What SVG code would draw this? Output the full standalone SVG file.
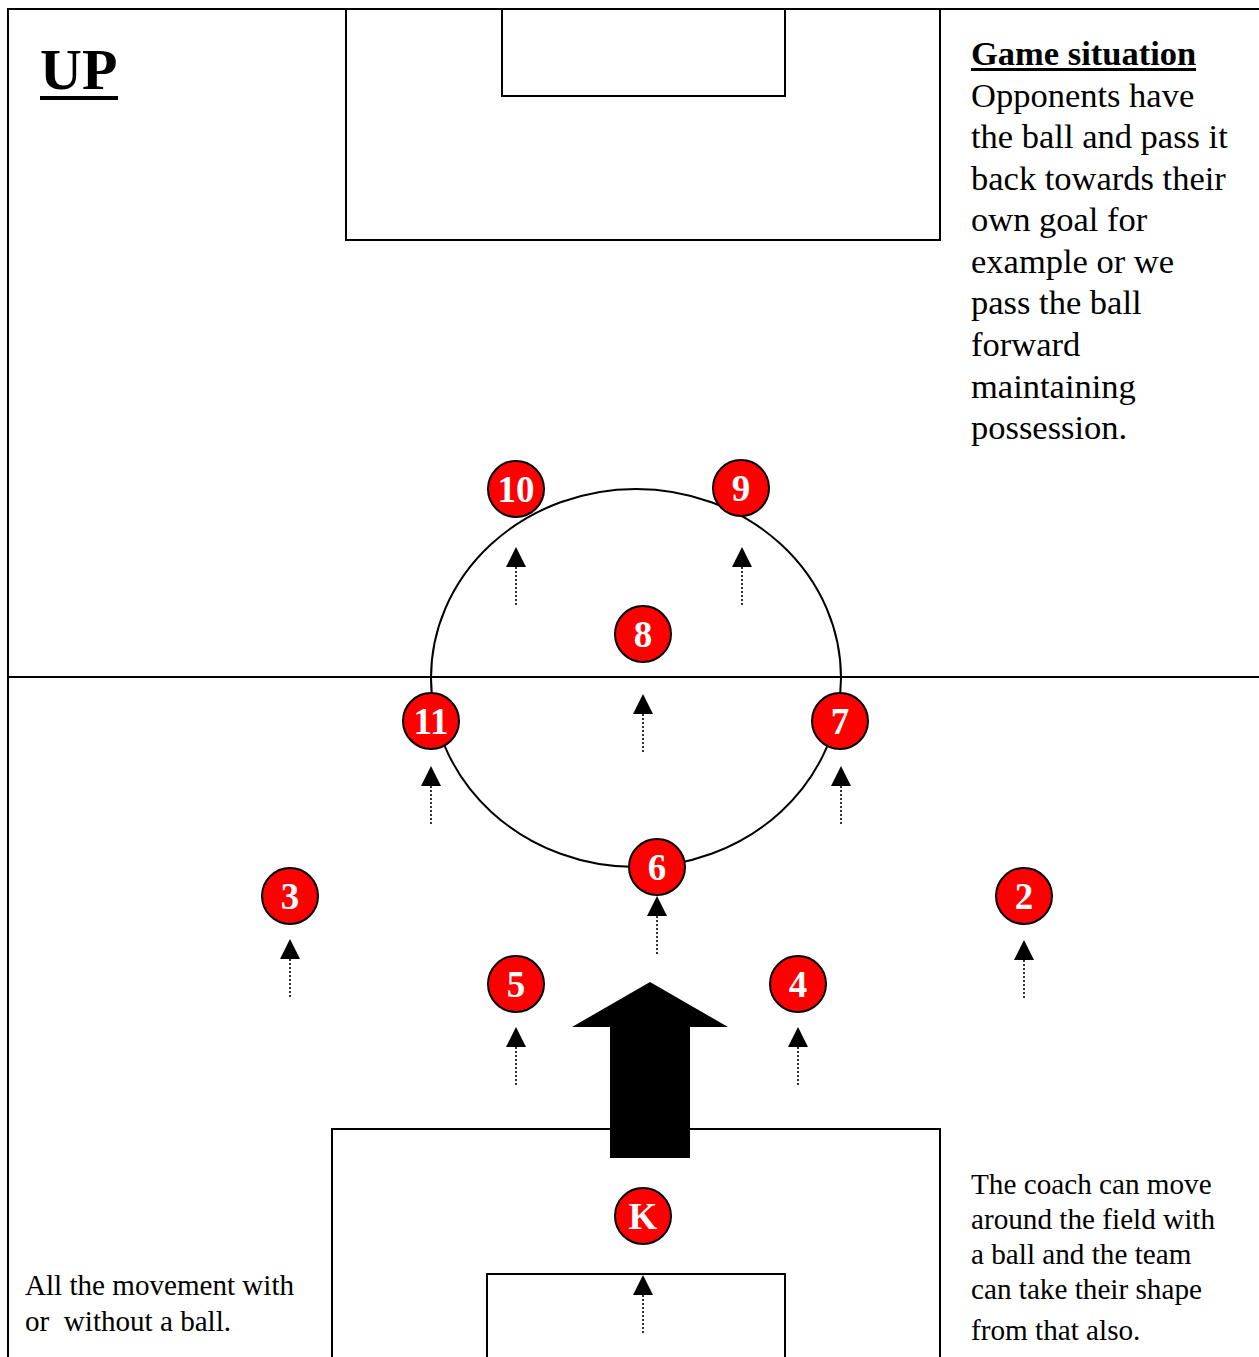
<svg xmlns="http://www.w3.org/2000/svg" width="1259" height="1357" viewBox="0 0 1259 1357">
<style>
.ln{fill:none;stroke:#000;stroke-width:2}
.pl circle{fill:#ff0000;stroke:#000;stroke-width:2}
.pl text{fill:#fff;font-family:"Liberation Serif",serif;font-weight:bold;font-size:37px;text-anchor:middle}
.dot{stroke:#000;stroke-width:1.6;stroke-dasharray:2,2;fill:none}
.tri{fill:#000}
.t{font-family:"Liberation Serif",serif;fill:#000}
</style>
<defs>
<g id="mv"><path class="tri" d="M0,0 L-10,20 L10,20 Z"/><line class="dot" x1="0" y1="20" x2="0" y2="58"/></g>
</defs>
<rect width="1259" height="1357" fill="#fff"/>
<g id="field">
<path class="ln" d="M1259,9 H8 V1357"/>
<line class="ln" x1="8" y1="677" x2="1259" y2="677"/>
<rect class="ln" x="346" y="9" width="594" height="231"/>
<rect class="ln" x="502" y="9" width="283" height="87"/>
<path class="ln" d="M332,1357 V1129 H940 V1357"/>
<path class="ln" d="M487,1357 V1274 H785 V1357"/>
<ellipse class="ln" cx="636" cy="678" rx="205" ry="189"/>
</g>
<g id="connectors">
<use href="#mv" x="516" y="547"/>
<use href="#mv" x="742" y="547"/>
<use href="#mv" x="643" y="694"/>
<use href="#mv" x="431" y="766"/>
<use href="#mv" x="841" y="766"/>
<use href="#mv" x="657" y="896"/>
<use href="#mv" x="290" y="939"/>
<use href="#mv" x="1024" y="940"/>
<use href="#mv" x="516" y="1027"/>
<use href="#mv" x="798" y="1027"/>
<use href="#mv" x="643" y="1275"/>
<path id="big-arrow" d="M650,982 L728,1027 L690,1027 L690,1158 L610,1158 L610,1027 L572,1027 Z" fill="#000"/>
</g>
<g id="p10" class="pl"><circle cx="516" cy="489" r="28"/><text x="516" y="502">10</text></g>
<g id="p9" class="pl"><circle cx="741" cy="488" r="28"/><text x="741" y="501">9</text></g>
<g id="p8" class="pl"><circle cx="643" cy="634" r="28"/><text x="643" y="647">8</text></g>
<g id="p11" class="pl"><circle cx="431" cy="721" r="28"/><text x="431" y="734">11</text></g>
<g id="p7" class="pl"><circle cx="840" cy="721" r="28"/><text x="840" y="734">7</text></g>
<g id="p6" class="pl"><circle cx="657" cy="867" r="28"/><text x="657" y="880">6</text></g>
<g id="p3" class="pl"><circle cx="290" cy="896" r="28"/><text x="290" y="909">3</text></g>
<g id="p2" class="pl"><circle cx="1024" cy="896" r="28"/><text x="1024" y="909">2</text></g>
<g id="p5" class="pl"><circle cx="516" cy="984" r="28"/><text x="516" y="997">5</text></g>
<g id="p4" class="pl"><circle cx="798" cy="984" r="28"/><text x="798" y="997">4</text></g>
<g id="pK" class="pl"><circle cx="643" cy="1216" r="28"/><text x="643" y="1229">K</text></g>
<g id="title">
<text class="t" x="40" y="89" font-size="58" font-weight="bold">UP</text>
<rect x="40" y="96" width="78" height="4" fill="#000"/>
</g>
<g id="game-situation" class="t" font-size="34.5">
<text x="971" y="65" font-weight="bold">Game situation</text>
<rect x="971" y="68" width="225" height="3" fill="#000"/>
<text x="971" y="107">Opponents have</text>
<text x="971" y="148">the ball and pass it</text>
<text x="971" y="190">back towards their</text>
<text x="971" y="231">own goal for</text>
<text x="971" y="273">example or we</text>
<text x="971" y="314">pass the ball</text>
<text x="971" y="356">forward</text>
<text x="971" y="398">maintaining</text>
<text x="971" y="439">possession.</text>
</g>
<g id="coach-note" class="t" font-size="29.2">
<text x="971" y="1194">The coach can move</text>
<text x="971" y="1229">around the field with</text>
<text x="971" y="1264">a ball and the team</text>
<text x="971" y="1299">can take their shape</text>
<text x="971" y="1340">from that also.</text>
</g>
<g id="movement-note" class="t" font-size="29.1">
<text x="25" y="1295">All the movement with</text>
<text x="25" y="1331" xml:space="preserve">or  without a ball.</text>
</g>
</svg>
